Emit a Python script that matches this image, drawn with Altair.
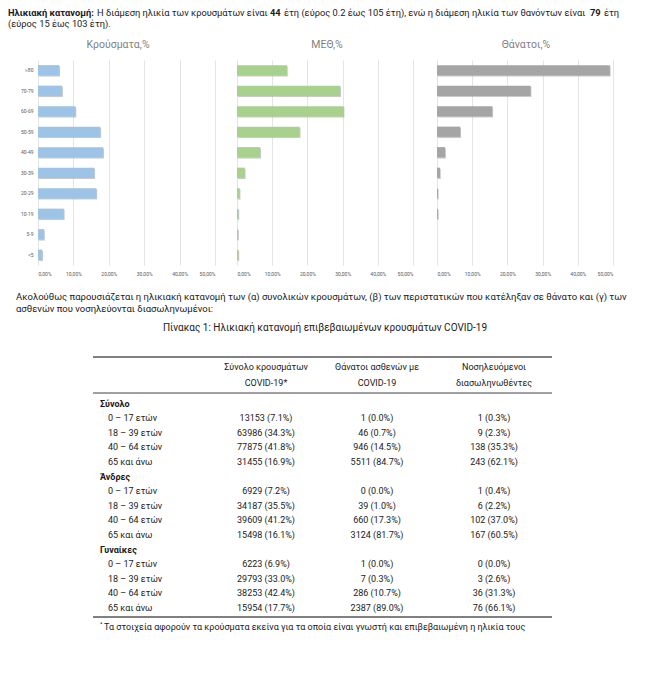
import altair as alt
import pandas as pd

FONT = "Roboto"

# ---------------- data ----------------
age_groups = ["≥80", "70-79", "60-69", "50-59", "40-49", "30-39", "20-29", "10-19", "5-9", "<5"]
cases_pct = [6.0, 6.8, 10.6, 17.6, 18.4, 15.9, 16.5, 7.3, 1.7, 1.2]
icu_pct = [14.2, 29.3, 30.3, 17.8, 6.6, 2.2, 0.75, 0.4, 0.3, 0.4]
deaths_pct = [49.1, 26.6, 15.7, 6.6, 2.3, 0.85, 0.25, 0.25, 0.0, 0.0]
panel_titles = ["Κρούσματα,%", "ΜΕΘ,%", "Θάνατοι,%"]
x_ticks = [0, 0.1, 0.2, 0.3, 0.4, 0.5]

groups = ["Σύνολο", "Άνδρες", "Γυναίκες"]
age_rows = ["0 – 17 ετών", "18 – 39 ετών", "40 – 64 ετών", "65 και άνω"]
cases_n = [13153, 63986, 77875, 31455, 6929, 34187, 39609, 15498, 6223, 29793, 38253, 15954]
cases_share = [7.1, 34.3, 41.8, 16.9, 7.2, 35.5, 41.2, 16.1, 6.9, 33.0, 42.4, 17.7]
deaths_n = [1, 46, 946, 5511, 0, 39, 660, 3124, 1, 7, 286, 2387]
deaths_share = [0.0, 0.7, 14.5, 84.7, 0.0, 1.0, 17.3, 81.7, 0.0, 0.3, 10.7, 89.0]
intub_n = [1, 9, 138, 243, 1, 6, 102, 167, 0, 3, 36, 76]
intub_share = [0.3, 2.3, 35.3, 62.1, 0.4, 2.2, 37.0, 60.5, 0.0, 2.6, 31.3, 66.1]
col_headers = [["Σύνολο κρουσμάτων", "COVID-19*"], ["Θάνατοι ασθενών με", "COVID-19"],
               ["Νοσηλευόμενοι", "διασωληνωθέντες"]]

# ---------------- tables ----------------
bars = pd.DataFrame({
    "age": age_groups,
    "cases": [v / 100 for v in cases_pct],
    "icu": [v / 100 for v in icu_pct],
    "deaths": [v / 100 for v in deaths_pct],
})

head_rows, label_rows, value_rows = [], [], []
for gi, g in enumerate(groups):
    base = gi * 5
    head_rows.append({"row": base, "t": g})
    for ai, a in enumerate(age_rows):
        r = base + 1 + ai
        k = gi * 4 + ai
        label_rows.append({"row": r, "t": a})
        value_rows.append({"row": r, "col": 1, "t": f"{cases_n[k]} ({cases_share[k]:.1f}%)"})
        value_rows.append({"row": r, "col": 2, "t": f"{deaths_n[k]} ({deaths_share[k]:.1f}%)"})
        value_rows.append({"row": r, "col": 3, "t": f"{intub_n[k]} ({intub_share[k]:.1f}%)"})
head_df = pd.DataFrame(head_rows)
label_df = pd.DataFrame(label_rows)
value_df = pd.DataFrame(value_rows)

# plot origin (page coords) is at x=38, y=60; all annotation offsets are relative to it
OX, OY = 38, 60
COL_X = [266 - OX, 377 - OX, 494 - OX]
ROW_Y = [403.5 - OY, 608 - OY]

TXT = "#1a1a1a"
BODY = 9.3


def txt(s, px, py, size=BODY, weight="normal", align="left", color=TXT, baseline="middle"):
    return alt.Chart(alt.Data(values=[{"t": s}])).mark_text(
        align=align, baseline=baseline, fontSize=size, fontWeight=weight, color=color, font=FONT
    ).encode(x=alt.value(px - OX), y=alt.value(py - OY), text="t:N")


def rule(px1, px2, py, width, color="#808080"):
    return alt.Chart(alt.Data(values=[{}])).mark_rule(color=color, strokeWidth=width).encode(
        x=alt.value(px1 - OX), x2=alt.value(px2 - OX), y=alt.value(py - OY)
    )


label_expr = "replace(format(datum.value, '.2%'), '.', ',')"


def bar_layer(field, color, rng, show_y, shadow=False):
    yaxis = alt.Axis(title=None, domain=False, ticks=False, labelFontSize=5, labelColor="#595959",
                     labelPadding=5, labelFont=FONT) if (show_y and not shadow) else None
    xaxis = None if shadow else alt.Axis(
        orient="bottom", values=x_ticks, labelExpr=label_expr, grid=True, gridColor="#d9d9d9",
        gridWidth=0.7, domain=False, ticks=False, labelFontSize=5, labelColor="#595959",
        labelPadding=6, title=None, labelFont=FONT)
    if shadow:
        mk = dict(color="#8a8a8a", opacity=0.45, xOffset=0.8, x2Offset=1.2, yOffset=1.2, y2Offset=1.2)
    else:
        mk = dict(color=color)
    return alt.Chart(bars).mark_bar(**mk).encode(
        y=alt.Y("age:N", sort=age_groups, scale=alt.Scale(paddingInner=0.5, paddingOuter=0.25), axis=yaxis),
        x=alt.X(f"{field}:Q", scale=alt.Scale(domain=[0, 0.5], range=rng), axis=xaxis),
    )


ranges = [[0, 177], [199, 375], [399, 575]]
colors = ["#9dc3e6", "#a9d18e", "#a5a5a5"]
fields = ["cases", "icu", "deaths"]

layers = []
for i in range(3):
    layers.append(bar_layer(fields[i], colors[i], ranges[i], i == 0, shadow=True))
    layers.append(bar_layer(fields[i], colors[i], ranges[i], i == 0))

# panel titles
title_x = [118, 327, 526]
for i in range(3):
    layers.append(txt(panel_titles[i], title_x[i], 45, size=10.5, align="center", color="#7f7f7f"))

# heading paragraph
HY1, HY2 = 12.5, 23.5
layers += [
    txt("Ηλικιακή κατανομή:", 8, HY1, weight="bold"),
    txt("Η διάμεση ηλικία των κρουσμάτων είναι", 97, HY1),
    txt("44", 270, HY1, weight="bold"),
    txt("έτη (εύρος 0.2 έως 105 έτη), ενώ η διάμεση ηλικία των θανόντων είναι", 284, HY1),
    txt("79", 590, HY1, weight="bold"),
    txt("έτη", 604, HY1),
    txt("(εύρος 15 έως 103 έτη).", 8, HY2),
]

# intro paragraph
layers += [
    txt("Ακολούθως παρουσιάζεται η ηλικιακή κατανομή των (α) συνολικών κρουσμάτων, (β) των περιστατικών που κατέληξαν σε θάνατο και (γ) των",
        16, 296.5, size=9.5),
    txt("ασθενών που νοσηλεύονται διασωληνωμένοι:", 16, 308.5, size=9.5),
    txt("Πίνακας 1: Ηλικιακή κατανομή επιβεβαιωμένων κρουσμάτων COVID-19", 325, 328, size=10, align="center"),
]

# table rules
layers += [rule(93, 552, 357, 2.2), rule(93, 552, 393, 1.5), rule(93, 552, 617, 2.2)]

# column headers
for i in range(3):
    layers.append(txt(col_headers[i][0], COL_X[i] + OX, 367, size=9, align="center"))
    layers.append(txt(col_headers[i][1], COL_X[i] + OX, 383, size=9, align="center"))

row_scale = alt.Scale(domain=[0, 14], range=ROW_Y)
col_scale = alt.Scale(domain=[1, 2, 3], range=COL_X)

layers.append(alt.Chart(head_df).mark_text(align="left", baseline="middle", fontSize=9, fontWeight="bold",
                                           color=TXT, font=FONT).encode(
    x=alt.value(100 - OX), y=alt.Y("row:Q", scale=row_scale, axis=None), text="t:N"))
layers.append(alt.Chart(label_df).mark_text(align="left", baseline="middle", fontSize=9,
                                            color=TXT, font=FONT).encode(
    x=alt.value(108 - OX), y=alt.Y("row:Q", scale=row_scale, axis=None), text="t:N"))
layers.append(alt.Chart(value_df).mark_text(align="center", baseline="middle", fontSize=9,
                                            color=TXT, font=FONT).encode(
    x=alt.X("col:Q", scale=col_scale, axis=None),
    y=alt.Y("row:Q", scale=row_scale, axis=None), text="t:N"))

# footnote
layers += [
    txt("*", 100, 624, size=6),
    txt("Τα στοιχεία αφορούν τα κρούσματα εκείνα για τα οποία είναι γνωστή και επιβεβαιωμένη η ηλικία τους",
        104, 627, size=9),
]

chart = alt.layer(*layers).resolve_scale(x="independent", y="independent").properties(
    width=575, height=205, padding=0
).configure_view(stroke=None)

chart.save("out.html", embed_options={"renderer": "svg", "actions": False})
